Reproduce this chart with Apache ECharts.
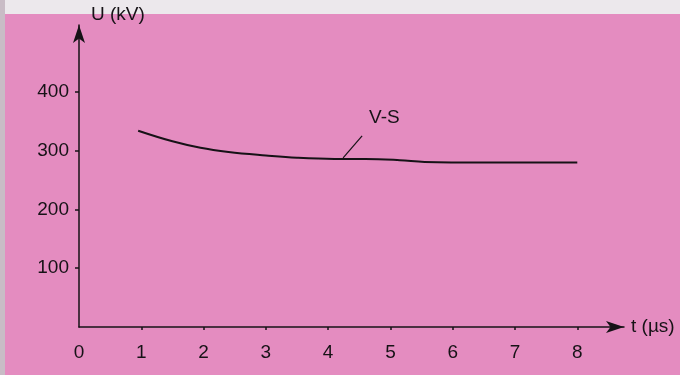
<!DOCTYPE html>
<html><head><meta charset="utf-8">
<script src="https://cdn.jsdelivr.net/npm/echarts@6/dist/echarts.min.js"></script>
<style>html,body{margin:0;padding:0;background:#e48cc0}#c{width:680px;height:375px}</style>
</head><body><div id="c"></div>
<script>
const tValues = [0.95, 1.5, 1.95, 2.4, 3.0, 3.5, 4.1, 4.6, 5.15, 5.55, 6.5, 8.0];
const uValues = [334, 316, 305, 298, 292, 288, 286, 286, 284, 281, 280, 280];
const xTickLabels = [0, 1, 2, 3, 4, 5, 6, 7, 8];
const yTickLabels = [100, 200, 300, 400];
const seriesName = 'V-S';
const labelT = 4.24;

const data = tValues.map((t, i) => [t, uValues[i]]);
const ink = '#161216';
const font = 'Liberation Sans, Arial, sans-serif';

const chart = echarts.init(document.getElementById('c'), null, {renderer: 'canvas'});
const baseGraphic = [
  {type: 'rect', z: -10, silent: true, shape: {x: 0, y: 0, width: 680, height: 14}, style: {fill: '#ece8ec'}},
  {type: 'rect', z: -10, silent: true, shape: {x: 0, y: 0, width: 5, height: 375}, style: {fill: '#c9bcc6'}},
  {type: 'text', left: 91, top: 5, style: {text: 'U (kV)', fill: ink, font: '19px ' + font}},
  {type: 'text', left: 631, top: 317, style: {text: 't (µs)', fill: ink, font: '19px ' + font}}
];
const option = {
  backgroundColor: '#e48cc0',
  animation: false,
  grid: {left: 79, right: 56, top: 25, bottom: 48},
  xAxis: {
    type: 'value', min: 0, max: 8.75, interval: 1,
    axisLine: {show: true, symbol: ['none', 'arrow'], symbolSize: [9, 18], lineStyle: {color: ink, width: 1.5}},
    axisTick: {show: true, length: 3, customValues: xTickLabels.slice(1), lineStyle: {color: ink, width: 1.5}},
    axisLabel: {customValues: xTickLabels, color: ink, fontSize: 19, fontFamily: font, margin: 16},
    splitLine: {show: false}
  },
  yAxis: {
    type: 'value', min: 0, max: 514, interval: 100,
    axisLine: {show: true, symbol: ['none', 'arrow'], symbolSize: [9, 18], lineStyle: {color: ink, width: 1.5}},
    axisTick: {show: true, length: 4, customValues: yTickLabels, lineStyle: {color: ink, width: 1.5}},
    axisLabel: {customValues: yTickLabels, color: ink, fontSize: 19, fontFamily: font, margin: 10},
    splitLine: {show: false}
  },
  series: [{
    name: seriesName, type: 'line', data: data, smooth: 0.4, showSymbol: false,
    lineStyle: {color: ink, width: 2}
  }],
  graphic: baseGraphic
};
chart.setOption(option);

function interpU(t) {
  for (let i = 0; i < tValues.length - 1; i++) {
    if (t >= tValues[i] && t <= tValues[i + 1]) {
      const f = (t - tValues[i]) / (tValues[i + 1] - tValues[i]);
      return uValues[i] + f * (uValues[i + 1] - uValues[i]);
    }
  }
  return uValues[uValues.length - 1];
}
const p = chart.convertToPixel({gridIndex: 0}, [labelT, interpU(labelT)]);
chart.setOption({
  graphic: baseGraphic.concat([
    {type: 'line', shape: {x1: p[0], y1: p[1] - 1, x2: p[0] + 19, y2: p[1] - 23}, style: {stroke: ink, lineWidth: 1.2}},
    {type: 'text', left: p[0] + 26, top: p[1] - 51, style: {text: seriesName, fill: ink, font: '19px ' + font}}
  ])
}, {replaceMerge: ['graphic']});
</script>
</body></html>
